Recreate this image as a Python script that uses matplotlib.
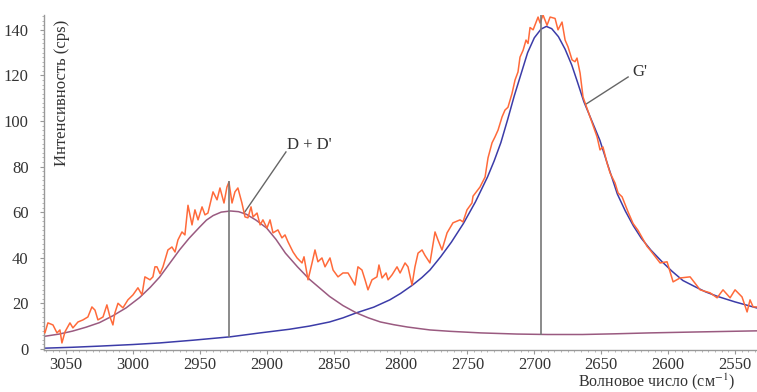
import matplotlib
matplotlib.use("Agg")
import matplotlib.pyplot as plt
from matplotlib.ticker import MultipleLocator

plt.rcParams['font.family'] = ['Liberation Serif', 'DejaVu Serif']
plt.rcParams['mathtext.fontset'] = 'stix'

# measured spectrum (wavenumber, cps)
raw_w = [3066.4, 3065.7, 3063.5, 3059.7, 3056.7, 3054.5, 3053.0, 3050.7, 3047.0, 3044.8,
         3041.0, 3037.3, 3033.6, 3030.6, 3028.3, 3026.1, 3022.3, 3019.4, 3017.1, 3014.9,
         3013.4, 3011.1, 3007.4, 3003.7, 2999.9, 2996.2, 2993.2, 2991.0, 2987.2, 2985.0,
         2983.5, 2982.0, 2979.7, 2977.5, 2973.8, 2970.8, 2968.5, 2966.3, 2963.3, 2961.1,
         2958.8, 2955.8, 2953.6, 2951.3, 2948.3, 2946.1, 2943.9, 2940.1, 2937.1, 2934.9,
         2931.9, 2929.7, 2928.2, 2925.9, 2923.7, 2921.5, 2918.5, 2916.2, 2914.0, 2911.7,
         2910.2, 2907.2, 2904.9, 2902.8, 2899.8, 2897.5, 2895.3, 2891.6, 2888.6, 2886.3,
         2884.1, 2880.3, 2877.3, 2873.6, 2872.1, 2869.1, 2866.1, 2863.9, 2861.7, 2858.7,
         2856.4, 2852.7, 2850.4, 2846.7, 2843.0, 2839.2, 2836.2, 2834.0, 2831.8, 2828.8,
         2826.5, 2824.3, 2821.3, 2817.6, 2816.1, 2813.8, 2810.8, 2809.3, 2806.3, 2802.6,
         2800.3, 2796.6, 2794.4, 2791.4, 2789.2, 2786.9, 2783.9, 2781.7, 2778.0, 2774.2,
         2772.0, 2769.0, 2765.2, 2760.8, 2755.5, 2753.3, 2750.3, 2746.6, 2745.8, 2740.6,
         2736.8, 2734.6, 2731.6, 2729.4, 2727.1, 2724.1, 2721.9, 2719.7, 2716.7, 2714.4,
         2712.2, 2710.7, 2708.4, 2706.2, 2704.7, 2703.2, 2700.9, 2697.2, 2695.7, 2693.5,
         2690.5, 2688.2, 2684.5, 2682.3, 2679.3, 2677.0, 2674.8, 2671.8, 2669.6, 2668.1,
         2665.8, 2663.6, 2658.4, 2653.1, 2650.9, 2648.7, 2645.7, 2643.4, 2639.7, 2637.4,
         2634.4, 2629.9, 2626.2, 2622.5, 2618.7, 2615.8, 2613.5, 2606.0, 2600.8, 2596.3,
         2591.1, 2583.6, 2576.1, 2568.7, 2563.4, 2559.0, 2553.7, 2550.0, 2544.8, 2541.0,
         2538.8, 2536.5, 2533.6]
raw_i = [8, 7, 11.4, 10.5, 7, 8.3, 2.6, 7.5, 11.4, 9.2,
         11.8, 12.7, 14, 18.4, 17, 12.7, 14, 19.3, 14, 10.5,
         15.8, 20, 18, 21.5, 23.7, 26.8, 23.7, 31.6, 30.3, 31.6,
         36, 36, 33, 36, 43.4, 44.7, 42.5, 47.8, 51.3, 50,
         63, 54.4, 61, 56.6, 62.3, 58.8, 59.6, 68.9, 65.4, 70.6,
         64, 71, 73.2, 64, 68.9, 70.6, 64, 57.9, 57.5, 62.3,
         57.9, 59.6, 54.4, 56.6, 53, 56.6, 50.9, 52.2, 48.7, 50,
         47, 42.5, 39.9, 37.7, 40.4, 30.3, 37.7, 43.4, 38.2, 39.9,
         36, 39.9, 34.6, 31.6, 33.3, 33.3, 30.3, 28, 36, 34.6,
         30.3, 25.9, 30.3, 31.6, 36.8, 31.1, 33.3, 30.3, 32.5, 36,
         33.3, 37.7, 36, 28, 36, 42, 43.4, 41, 37.7, 51.3,
         47.8, 43.4, 50.9, 55.3, 56.6, 55.7, 61, 64, 67, 71,
         75.4, 83.8, 90.4, 93, 96, 101.8, 104.8, 106, 112, 118,
         121.5, 128, 131, 135.5, 134, 141, 140, 145.6, 143, 146.5,
         142, 145.6, 145, 140, 143.4, 135.5, 132.5, 126.8, 126, 127.6,
         121, 110.5, 101.8, 93, 87.3, 88.6, 81.6, 77.2, 72.8, 68.4,
         66.7, 60, 55, 52, 48, 45, 43.4, 37.7, 38.2, 29.4,
         31.1, 31.6, 25.9, 24.6, 22.4, 25.9, 22.4, 25.9, 22.8, 16.2,
         21.5, 18.4, 18.4]

# fitted D + D' band
dd_w = [3066, 3055, 3045, 3035, 3025, 3015, 3005, 2995, 2987, 2980,
        2975, 2970, 2965, 2958, 2950, 2945, 2940, 2934, 2927, 2921,
        2915, 2908, 2900, 2893, 2886, 2877, 2868, 2860, 2853, 2843,
        2833, 2824, 2815, 2805, 2795, 2786, 2778, 2763, 2740, 2713,
        2690, 2664, 2640, 2614, 2580, 2534]
dd_i = [5.5, 6.5, 7.8, 9.5, 11.5, 14.5, 18, 22.5, 27, 31.5,
        35.5, 39.5, 43.5, 48.5, 53.5, 56.5, 58.5, 60, 60.5, 60.2,
        59, 56.5, 53, 48, 42, 36, 30.5, 26.5, 23, 19,
        15.8, 13.6, 11.8, 10.6, 9.6, 8.9, 8.3, 7.7, 7.0, 6.5,
        6.3, 6.3, 6.6, 7.0, 7.4, 7.9]

# fitted G' band
g_w = [3066, 3045, 3025, 3000, 2980, 2955, 2927, 2905, 2883, 2868,
       2853, 2843, 2833, 2820, 2808, 2800, 2791, 2784, 2778, 2770,
       2762, 2753, 2744, 2735, 2730, 2725, 2720, 2715, 2710, 2705,
       2700, 2695, 2691, 2687, 2682, 2677, 2672, 2668, 2663, 2657,
       2651, 2645, 2638, 2632, 2626, 2620, 2613, 2605, 2597, 2589,
       2580, 2572, 2563, 2550, 2534]
g_i = [0.3, 0.7, 1.2, 1.9, 2.6, 3.8, 5.3, 7.0, 8.6, 10,
       11.8, 13.6, 15.8, 18.3, 21.5, 24.3, 28, 31.3, 34.6, 40.4,
       46.8, 55, 64.5, 75.4, 82.5, 90.5, 100.5, 111, 120.5, 130,
       136.5, 140.3, 141.5, 140.5, 137, 131.5, 124.5, 117.5, 108.5, 100,
       91.5, 80.5, 68, 60.5, 54, 48.5, 43.4, 38.5, 34, 30,
       27.3, 25, 23, 20.6, 18]

# peak markers
peak_pos = [2928, 2695]
peak_low = [5.3, 6.3]
peak_high = [73.5, 146.5]

fig = plt.figure(figsize=(7.57, 3.92), dpi=100)
ax = fig.add_axes([44 / 757, 42 / 392, 713 / 757, 335 / 392])

ax.plot(g_w, g_i, color='#3c3ca8', lw=1.1, zorder=2)
ax.plot(dd_w, dd_i, color='#9a5a80', lw=1.1, zorder=2)
ax.plot(raw_w, raw_i, color='#ff6a3a', lw=1.1, zorder=3)
ax.vlines(peak_pos, peak_low, peak_high, color='#777777', lw=1.2, zorder=4)

# labels with leader lines
ax.plot([2885.6, 2916.9], [86.4, 59.6], color='#666666', lw=1)
ax.text(2885, 89.5, "D + D'", fontsize=12, color='#333333', ha='left', va='center')
ax.plot([2629.9, 2661.1], [119.3, 107.5], color='#666666', lw=1)
ax.text(2627, 121.5, "G'", fontsize=12, color='#333333', ha='left', va='center')

ax.set_xlim(3066.4, 2533.6)
ax.set_ylim(-0.5, 146.5)
ax.xaxis.set_major_locator(MultipleLocator(50))
ax.xaxis.set_minor_locator(MultipleLocator(5))
ax.yaxis.set_major_locator(MultipleLocator(20))
ax.yaxis.set_minor_locator(MultipleLocator(2))

for s in ['top', 'right']:
    ax.spines[s].set_visible(False)
for s in ['left', 'bottom']:
    ax.spines[s].set_color('#999999')
    ax.spines[s].set_linewidth(1)
ax.tick_params(which='major', length=3, color='#999999', labelsize=12,
               labelcolor='#333333')
ax.tick_params(which='minor', length=1.5, color='#aaaaaa')
ax.tick_params(axis='x', pad=2)
ax.tick_params(axis='y', pad=8)

fig.text(62 / 757, 1 - 20 / 392, "Интенсивность (cps)", rotation=90,
         ha='center', va='top', fontsize=12, color='#333333')
fig.text(735 / 757, 1 - 382 / 392, "Волновое число (см$^{-1}$)",
         ha='right', va='center', fontsize=11.5, color='#333333')

fig.savefig("out.png", dpi=100)
